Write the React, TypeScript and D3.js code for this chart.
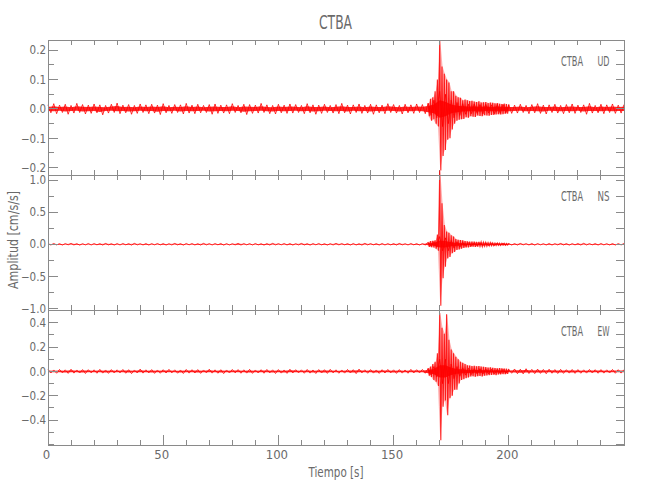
import React from 'react';
import * as d3 from 'd3';

// ---------------- data ----------------
const stationName = 'CTBA';
const components = ['UD', 'NS', 'EW'];
const xDomain = [0, 250];
const xMajorTicks = [0, 50, 100, 150, 200];
const xMinorStep = 10;

const udDomain = [-0.225, 0.235];
const nsDomain = [-1.025, 1.08];
const ewDomain = [-0.605, 0.505];
const udMajor = [-0.2, -0.1, 0.0, 0.1, 0.2];
const nsMajor = [-1.0, -0.5, 0.0, 0.5, 1.0];
const ewMajor = [-0.4, -0.2, 0.0, 0.2, 0.4];
const udMinorStep = 0.05;
const nsMinorStep = 0.25;
const ewMinorStep = 0.1;

// background envelope, one value every 2.5 s from 0 to 250 s
const bgStep = 2.5;
const udTop = [0.014,0.018,0.013,0.016,0.012,0.019,0.015,0.013,0.017,0.014,
 0.012,0.016,0.02,0.013,0.015,0.012,0.017,0.014,0.016,0.013,
 0.018,0.012,0.015,0.014,0.019,0.013,0.016,0.012,0.015,0.017,
 0.013,0.014,0.018,0.012,0.016,0.015,0.013,0.019,0.014,0.012,
 0.016,0.013,0.017,0.015,0.012,0.018,0.014,0.013,0.016,0.012,
 0.015,0.019,0.013,0.014,0.017,0.012,0.016,0.014,0.013,0.018,
 0.015,0.012,0.016,0.014,0.017,0.015,
 0.02,0.03,0.06,0.05,0.03,0.022,0.018,0.016,0.017,0.015,0.016,0.014,0.016,0.015,0.014,
 0.013,0.016,0.012,0.015,0.018,0.013,0.014,0.016,0.012,0.015,0.017,0.013,0.014,0.019,0.012,0.016,0.014,0.017,0.013,0.015];
const udBot = [-0.013,-0.016,-0.012,-0.018,-0.014,-0.012,-0.017,-0.015,-0.013,-0.02,
 -0.014,-0.012,-0.016,-0.013,-0.018,-0.015,-0.012,-0.016,-0.014,-0.019,
 -0.013,-0.015,-0.012,-0.017,-0.014,-0.016,-0.013,-0.012,-0.018,-0.015,
 -0.014,-0.016,-0.012,-0.013,-0.019,-0.015,-0.014,-0.012,-0.016,-0.017,
 -0.013,-0.015,-0.014,-0.012,-0.016,-0.013,-0.018,-0.015,-0.012,-0.014,
 -0.016,-0.013,-0.017,-0.012,-0.015,-0.014,-0.018,-0.013,-0.016,-0.012,
 -0.014,-0.017,-0.013,-0.015,-0.012,-0.016,
 -0.022,-0.03,-0.06,-0.05,-0.03,-0.022,-0.018,-0.016,-0.015,-0.017,-0.014,-0.016,-0.015,-0.013,-0.015,
 -0.014,-0.012,-0.016,-0.013,-0.015,-0.017,-0.012,-0.014,-0.016,-0.013,-0.015,-0.012,-0.018,-0.014,-0.013,-0.016,-0.012,-0.015,-0.014,-0.013];

const nsTop = [0.01,0.012,0.009,0.011,0.013,0.01,0.009,0.012,0.011,0.01,
 0.013,0.009,0.011,0.012,0.01,0.014,0.009,0.011,0.01,0.012,
 0.011,0.009,0.013,0.01,0.012,0.011,0.009,0.014,0.01,0.011,
 0.012,0.01,0.009,0.013,0.011,0.01,0.012,0.009,0.011,0.014,
 0.01,0.012,0.011,0.009,0.013,0.01,0.011,0.012,0.009,0.01,
 0.013,0.011,0.01,0.012,0.009,0.014,0.011,0.01,0.012,0.01,
 0.011,0.013,0.009,0.012,0.01,0.011,
 0.03,0.04,0.12,0.1,0.06,0.04,0.03,0.025,0.02,0.022,0.018,0.015,0.014,0.012,0.012,
 0.011,0.013,0.01,0.012,0.011,0.009,0.012,0.01,0.013,0.011,0.01,0.012,0.015,0.01,0.011,0.012,0.009,0.011,0.01,0.012];
const nsBot = [-0.011,-0.01,-0.012,-0.009,-0.011,-0.013,-0.01,-0.011,-0.009,-0.012,
 -0.01,-0.012,-0.011,-0.009,-0.013,-0.01,-0.011,-0.012,-0.009,-0.01,
 -0.012,-0.011,-0.01,-0.013,-0.009,-0.011,-0.012,-0.01,-0.011,-0.009,
 -0.013,-0.011,-0.01,-0.012,-0.009,-0.011,-0.01,-0.013,-0.012,-0.01,
 -0.009,-0.011,-0.012,-0.01,-0.011,-0.013,-0.009,-0.01,-0.012,-0.011,
 -0.01,-0.009,-0.012,-0.011,-0.013,-0.01,-0.009,-0.012,-0.011,-0.01,
 -0.012,-0.01,-0.011,-0.009,-0.012,-0.011,
 -0.03,-0.045,-0.1,-0.1,-0.06,-0.045,-0.03,-0.025,-0.022,-0.02,-0.018,-0.016,-0.013,-0.012,-0.012,
 -0.012,-0.01,-0.011,-0.013,-0.009,-0.011,-0.012,-0.01,-0.011,-0.013,-0.01,-0.012,-0.011,-0.009,-0.012,-0.01,-0.011,-0.012,-0.01,-0.011];

const ewTop = [0.014,0.012,0.016,0.013,0.018,0.012,0.015,0.014,0.013,0.017,
 0.012,0.015,0.013,0.016,0.014,0.012,0.019,0.013,0.015,0.012,
 0.014,0.017,0.013,0.012,0.016,0.014,0.015,0.012,0.018,0.013,
 0.014,0.012,0.016,0.015,0.013,0.017,0.012,0.014,0.016,0.013,
 0.015,0.012,0.018,0.014,0.013,0.016,0.012,0.015,0.014,0.017,
 0.013,0.012,0.016,0.014,0.019,0.013,0.015,0.012,0.014,0.016,
 0.013,0.015,0.012,0.017,0.014,0.016,
 0.025,0.04,0.1,0.1,0.06,0.04,0.03,0.025,0.022,0.022,0.02,0.018,0.016,0.016,0.015,
 0.02,0.018,0.022,0.017,0.019,0.016,0.018,0.015,0.017,0.014,0.016,0.015,0.013,0.016,0.014,0.015,0.013,0.016,0.014,0.015];
const ewBot = [-0.013,-0.015,-0.012,-0.016,-0.014,-0.013,-0.017,-0.012,-0.015,-0.014,
 -0.016,-0.013,-0.012,-0.015,-0.018,-0.013,-0.014,-0.012,-0.016,-0.015,
 -0.013,-0.012,-0.015,-0.017,-0.014,-0.013,-0.016,-0.012,-0.014,-0.015,
 -0.018,-0.013,-0.012,-0.015,-0.014,-0.016,-0.013,-0.015,-0.012,-0.017,
 -0.014,-0.016,-0.013,-0.012,-0.015,-0.014,-0.017,-0.013,-0.016,-0.012,
 -0.015,-0.014,-0.013,-0.018,-0.012,-0.015,-0.014,-0.016,-0.013,-0.012,
 -0.016,-0.014,-0.015,-0.013,-0.012,-0.015,
 -0.03,-0.045,-0.1,-0.1,-0.06,-0.04,-0.03,-0.025,-0.02,-0.022,-0.019,-0.018,-0.017,-0.015,-0.015,
 -0.019,-0.02,-0.017,-0.018,-0.016,-0.019,-0.015,-0.017,-0.016,-0.014,-0.016,-0.015,-0.014,-0.013,-0.015,-0.014,-0.013,-0.015,-0.014,-0.013];

// strong-motion peaks, one extremum every 0.5 s from 165 s to 200 s
const peakStart = 165;
const peakStep = 0.5;
const udPeaks = [0.018,-0.025,0.035,-0.04,0.04,-0.035,0.06,-0.05,0.1,-0.06,
 0.235,-0.21,0.145,-0.16,0.12,-0.14,0.1,-0.105,0.09,-0.1,
 0.06,-0.07,0.06,-0.05,0.045,-0.04,0.04,-0.037,0.038,-0.035,
 0.03,-0.034,0.032,-0.028,0.03,-0.03,0.027,-0.025,0.028,-0.026,
 0.025,-0.027,0.024,-0.022,0.026,-0.024,0.022,-0.025,0.023,-0.021,
 0.024,-0.022,0.02,-0.023,0.022,-0.02,0.021,-0.02,0.019,-0.019,
 0.02,-0.018,0.018,-0.019,0.017,-0.018,0.018,-0.016,0.017,-0.016,0.016];
const nsPeaks = [0.03,-0.04,0.05,-0.045,0.055,-0.05,0.06,-0.07,0.15,-0.1,
 1.15,-0.96,0.64,-0.53,0.3,-0.35,0.2,-0.22,0.18,-0.2,
 0.14,-0.14,0.12,-0.12,0.08,-0.09,0.07,-0.08,0.065,-0.07,
 0.06,-0.055,0.05,-0.05,0.045,-0.048,0.04,-0.042,0.042,-0.038,
 0.04,-0.04,0.036,-0.035,0.038,-0.033,0.035,-0.036,0.032,-0.03,
 0.028,-0.03,0.026,-0.024,0.025,-0.022,0.022,-0.022,0.02,-0.019,
 0.018,-0.018,0.016,-0.017,0.015,-0.014,0.014,-0.014,0.013,-0.013,0.012];
const ewPeaks = [0.025,-0.035,0.04,-0.045,0.06,-0.07,0.08,-0.085,0.15,-0.12,
 0.48,-0.565,0.36,-0.29,0.31,-0.24,0.47,-0.36,0.26,-0.22,
 0.18,-0.2,0.15,-0.15,0.12,-0.15,0.1,-0.1,0.08,-0.07,
 0.07,-0.065,0.06,-0.055,0.05,-0.05,0.048,-0.042,0.045,-0.04,
 0.047,-0.043,0.042,-0.04,0.045,-0.038,0.04,-0.042,0.038,-0.036,
 0.035,-0.033,0.032,-0.03,0.033,-0.028,0.03,-0.027,0.028,-0.03,
 0.026,-0.025,0.027,-0.024,0.025,-0.022,0.024,-0.023,0.022,-0.021,0.02];

// ---------------- drawing ----------------
const FONT = "'Liberation Sans Narrow','DejaVu Sans Condensed','Liberation Sans',sans-serif";
const AXIS = '#8a8a8a';
const TEXT = '#6a6a6a';
const RED = '#ff0000';

const left = 48, right = 624, top0 = 40, panelH = 135;
const x = d3.scaleLinear().domain(xDomain).range([left, right]);
const fmt = d3.format('.1f');

type PanelProps = {
  idx: number; domain: number[]; majors: number[]; minorStep: number;
  bgTop: number[]; bgBot: number[]; peaks: number[]; comp: string;
};

function Panel({ idx, domain, majors, minorStep, bgTop, bgBot, peaks, comp }: PanelProps) {
  const top = top0 + idx * panelH;
  const bottom = top + panelH;
  const isLast = idx === 2;
  const y = d3.scaleLinear().domain(domain).range([bottom, top]);
  const kMin = Math.ceil(domain[0] / minorStep - 1e-9);
  const kMax = Math.floor(domain[1] / minorStep + 1e-9);
  const yMinor = d3.range(kMin, kMax + 1).map(k => k * minorStep);
  const isMajorY = (v: number) => majors.some(m => Math.abs(m - v) < 1e-9);
  const xMinor = d3.range(0, xDomain[1] / xMinorStep + 1).map(k => k * xMinorStep);
  const isMajorX = (v: number) => xMajorTicks.includes(v);

  // core band of the background noise
  const area = d3.area<number>()
    .x((_, i) => x(i * bgStep))
    .y0((_, i) => y(bgBot[i] * 0.5))
    .y1(d => y(d * 0.5));
  // background trace through the read extrema (top, then bottom half a step later)
  const bgPts: [number, number][] = [];
  bgTop.forEach((v, i) => {
    bgPts.push([i * bgStep, v]);
    if (i < bgBot.length - 1) bgPts.push([i * bgStep + bgStep / 2, bgBot[i]]);
  });
  const bgLine = d3.line<[number, number]>().x(d => x(d[0])).y(d => y(d[1]));

  // strong motion: envelope between the positive and negative extrema, plus the trace itself
  const pairs = d3.range(0, Math.floor(peaks.length / 2)).map(j => ({
    t: peakStart + (2 * j + 0.5) * peakStep, hi: peaks[2 * j], lo: peaks[2 * j + 1],
  }));
  const envArea = d3.area<{ t: number; hi: number; lo: number }>()
    .x(d => x(d.t)).y0(d => y(d.lo)).y1(d => y(d.hi));
  const line = d3.line<number>()
    .x((_, i) => x(peakStart + i * peakStep))
    .y(d => y(d));

  return (
    <g>
      <path d={area(bgTop) || ''} fill={RED} fillOpacity={0.85} />
      <path d={bgLine(bgPts) || ''} fill="none" stroke={RED} strokeWidth={0.9} strokeOpacity={0.9} />
      <path d={envArea(pairs) || ''} fill={RED} fillOpacity={0.3} />
      <path d={line(peaks) || ''} fill="none" stroke={RED} strokeWidth={1.1} strokeOpacity={0.85} strokeLinejoin="miter" />
      <g shapeRendering="crispEdges" stroke={AXIS} strokeWidth={1}>
        <rect x={left} y={top} width={right - left} height={panelH} fill="none" />
        {yMinor.map((v, i) => {
          const yy = y(v);
          const len = isMajorY(v) ? 10 : 5.5;
          return (
            <g key={'y' + i}>
              <line x1={left} x2={left + len} y1={yy} y2={yy} />
              <line x1={right} x2={right - 8} y1={yy} y2={yy} />
            </g>
          );
        })}
        {xMinor.map((v, i) => {
          const xx = x(v);
          const lenB = isLast && isMajorX(v) ? 10 : 5;
          return (
            <g key={'x' + i}>
              <line x1={xx} x2={xx} y1={top} y2={top + 5} />
              <line x1={xx} x2={xx} y1={bottom} y2={bottom - lenB} />
            </g>
          );
        })}
      </g>
      <g fontFamily={FONT} fill={TEXT}>
        {majors.map((v, i) => (
          <text key={'yl' + i} x={left - 2} y={y(v) + 4.2} fontSize={11.5} textAnchor="end">{fmt(v)}</text>
        ))}
        {isLast && xMajorTicks.map((v, i) => (
          <text key={'xl' + i} x={x(v) - 1.5} y={bottom + 14} fontSize={13} textAnchor="middle">{String(v)}</text>
        ))}
        <text x={561} y={top + 26} fontSize={14} textLength={22} lengthAdjust="spacingAndGlyphs">{stationName}</text>
        <text x={609.5} y={top + 26} fontSize={14} textAnchor="end" textLength={12} lengthAdjust="spacingAndGlyphs">{comp}</text>
      </g>
    </g>
  );
}

export default function App() {
  const panels = [
    { domain: udDomain, majors: udMajor, minorStep: udMinorStep, bgTop: udTop, bgBot: udBot, peaks: udPeaks },
    { domain: nsDomain, majors: nsMajor, minorStep: nsMinorStep, bgTop: nsTop, bgBot: nsBot, peaks: nsPeaks },
    { domain: ewDomain, majors: ewMajor, minorStep: ewMinorStep, bgTop: ewTop, bgBot: ewBot, peaks: ewPeaks },
  ];
  return (
    <svg width={650} height={500} viewBox="0 0 650 500"
      style={{ position: 'absolute', left: 0, top: 0, background: '#ffffff' }}>
      <rect x={0} y={0} width={650} height={500} fill="#ffffff" />
      {panels.map((p, i) => (
        <Panel key={i} idx={i} comp={components[i]} {...p} />
      ))}
      <g fontFamily={FONT} fill={TEXT}>
        <text x={335.5} y={29} fontSize={20} textAnchor="middle" textLength={33} lengthAdjust="spacingAndGlyphs">{stationName}</text>
        <text x={336} y={477} fontSize={14} textAnchor="middle" textLength={55} lengthAdjust="spacingAndGlyphs">Tiempo [s]</text>
        <text transform="translate(18,240) rotate(-90)" fontSize={14} textAnchor="middle" textLength={98} lengthAdjust="spacingAndGlyphs">Amplitud [cm/s/s]</text>
      </g>
    </svg>
  );
}
